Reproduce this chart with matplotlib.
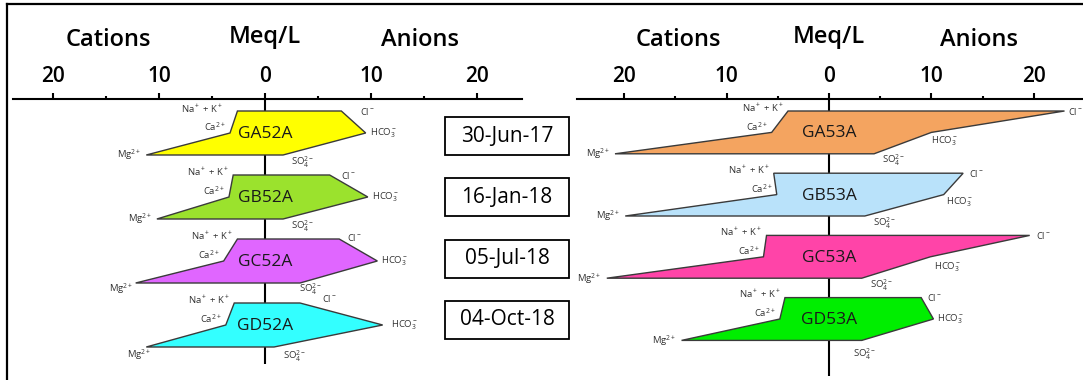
import matplotlib
matplotlib.use('Agg')
import matplotlib.pyplot as plt
from matplotlib.patches import Rectangle
from matplotlib.lines import Line2D
from matplotlib.ticker import FixedLocator, FuncFormatter

plt.rcParams['font.family'] = ['Open Sans', 'DejaVu Sans']
plt.rcParams['mathtext.fontset'] = 'custom'
plt.rcParams['mathtext.rm'] = 'Open Sans'

# meq/L
samples_52 = ['GA52A', 'GB52A', 'GC52A', 'GD52A']
na_52 = [2.6, 3.0, 2.6, 2.9]
ca_52 = [3.3, 3.4, 3.9, 3.7]
mg_52 = [11.2, 10.2, 12.2, 11.2]
cl_52 = [7.2, 6.1, 7.0, 3.3]
hco3_52 = [9.5, 9.7, 10.6, 11.1]
so4_52 = [1.7, 1.7, 3.3, 0.85]

samples_53 = ['GA53A', 'GB53A', 'GC53A', 'GD53A']
na_53 = [4.0, 5.4, 6.1, 4.3]
ca_53 = [5.6, 5.1, 6.4, 4.8]
mg_53 = [20.9, 19.9, 21.7, 14.4]
cl_53 = [23.0, 13.1, 19.6, 9.0]
hco3_53 = [10.0, 11.2, 9.9, 10.2]
so4_53 = [4.4, 3.5, 3.2, 3.2]

dates = ['30-Jun-17', '16-Jan-18', '05-Jul-18', '04-Oct-18']
colors_52 = ['#ffff00', '#9be22d', '#e066ff', '#33ffff']
colors_53 = ['#f4a460', '#b9e2fa', '#ff44a8', '#00ee00']

ion_labels = ['Na$^+$ + K$^+$', 'Ca$^{2+}$', 'Mg$^{2+}$', 'Cl$^-$', 'HCO$_3^-$', 'SO$_4^{2-}$']

W, H = 1083, 380
fig = plt.figure(figsize=(W / 100, H / 100), dpi=100)

# default label offsets in pixels (dx, dy down), one per ion
default_off = [(-4, -3), (-4, -6), (-5, 0), (6, 0), (4, 0), (8, 7)]
over_52 = {(0, 0): (-14, -2), (0, 3): (19, 0), (1, 3): (11, 0),
           (2, 2): (-2, 6), (2, 3): (8, -2), (2, 5): (-1, 6),
           (3, 2): (5, 8), (3, 3): (22, -5),
           (3, 4): (8, 0), (3, 5): (9, 9)}
over_53 = {(0, 3): (3, 0), (0, 4): (0, 9), (1, 4): (2, 8), (2, 4): (4, 10),
           (3, 5): (-9, 14)}


def stiff_panel(rect, xlim, names, na, ca, mg, cl, hco3, so4, colors,
                top0, step, row, vline_end, overrides):
    ax = fig.add_axes(rect)
    ax.set_xlim(*xlim)
    ax.set_ylim(H, 99)
    for s in ['left', 'right', 'bottom']:
        ax.spines[s].set_visible(False)
    ax.spines['top'].set_linewidth(1.5)
    ax.xaxis.tick_top()
    ax.xaxis.set_major_locator(FixedLocator([-20, -10, 0, 10, 20]))
    ax.xaxis.set_minor_locator(FixedLocator([-15, -5, 5, 15]))
    ax.xaxis.set_major_formatter(FuncFormatter(lambda v, p: '%d' % abs(v)))
    ax.tick_params(axis='x', which='major', length=4.5, width=1.5, pad=4,
                   labelsize=15)
    ax.tick_params(axis='x', which='minor', length=2.2, width=1.5)
    for lab in ax.get_xticklabels():
        lab.set_fontweight('semibold')
    ax.set_yticks([])
    ax.vlines(0, 99, vline_end, color='black', lw=1.5, zorder=1)

    for i in range(len(names)):
        y0 = top0 + i * step
        ys = [y0, y0, y0 + row, y0 + 2 * row, y0 + 2 * row, y0 + row]
        xs = [-na[i], cl[i], hco3[i], so4[i], -mg[i], -ca[i]]
        ax.fill(xs, ys, facecolor=colors[i], edgecolor='#3a3a3a', lw=1.0, zorder=2)
        ax.text(0, y0 + row + 1, names[i], ha='center', va='center',
                fontsize=12.5, color='#1a1a1a', zorder=3)
        pts = [(-na[i], y0), (-ca[i], y0 + row), (-mg[i], y0 + 2 * row),
               (cl[i], y0), (hco3[i], y0 + row), (so4[i], y0 + 2 * row)]
        for k, (px, py) in enumerate(pts):
            dx, dy = overrides.get((i, k), default_off[k])
            ha = 'right' if k < 3 else 'left'
            ax.annotate(ion_labels[k], (px, py), xytext=(dx * 0.72, -dy * 0.72),
                        textcoords='offset points', ha=ha, va='center',
                        fontsize=6.8, color='#333333', annotation_clip=False)

    kw = dict(ha='center', va='center', fontsize=17, fontweight='semibold',
              clip_on=False)
    ax.text(-14.75, 40, 'Cations', **kw)
    ax.text(0, 37, 'Meq/L', **kw)
    ax.text(14.6, 40, 'Anions', **kw)
    return ax


stiff_panel([12.8 / W, 0, (522 - 12.8) / W, (H - 99) / H],
            ((12.8 - 265) / 10.6, (522 - 265) / 10.6),
            samples_52, na_52, ca_52, mg_52, cl_52, hco3_52, so4_52, colors_52,
            111, 64, 22, 364, over_52)
stiff_panel([577 / W, 0, (W - 577) / W, (H - 99) / H],
            ((577 - 829) / 10.24, (W - 829) / 10.24),
            samples_53, na_53, ca_53, mg_53, cl_53, hco3_53, so4_53, colors_53,
            111, 62.2, 21.4, 376, over_53)

# date boxes
for i, d in enumerate(dates):
    top = 117 + i * 61.3
    fig.add_artist(Rectangle((445 / W, 1 - (top + 38) / H), 124 / W, 38 / H,
                             transform=fig.transFigure, fill=False,
                             edgecolor='black', lw=1.3))
    fig.text(507 / W, 1 - (top + 19) / H, d, ha='center', va='center', fontsize=15)

# frame on top and left
fig.add_artist(Line2D([7 / W, 1], [1 - 4 / H, 1 - 4 / H], color='black', lw=1.6))
fig.add_artist(Line2D([7 / W, 7 / W], [0, 1 - 4 / H], color='black', lw=1.6))

fig.savefig('out.png', dpi=100)
